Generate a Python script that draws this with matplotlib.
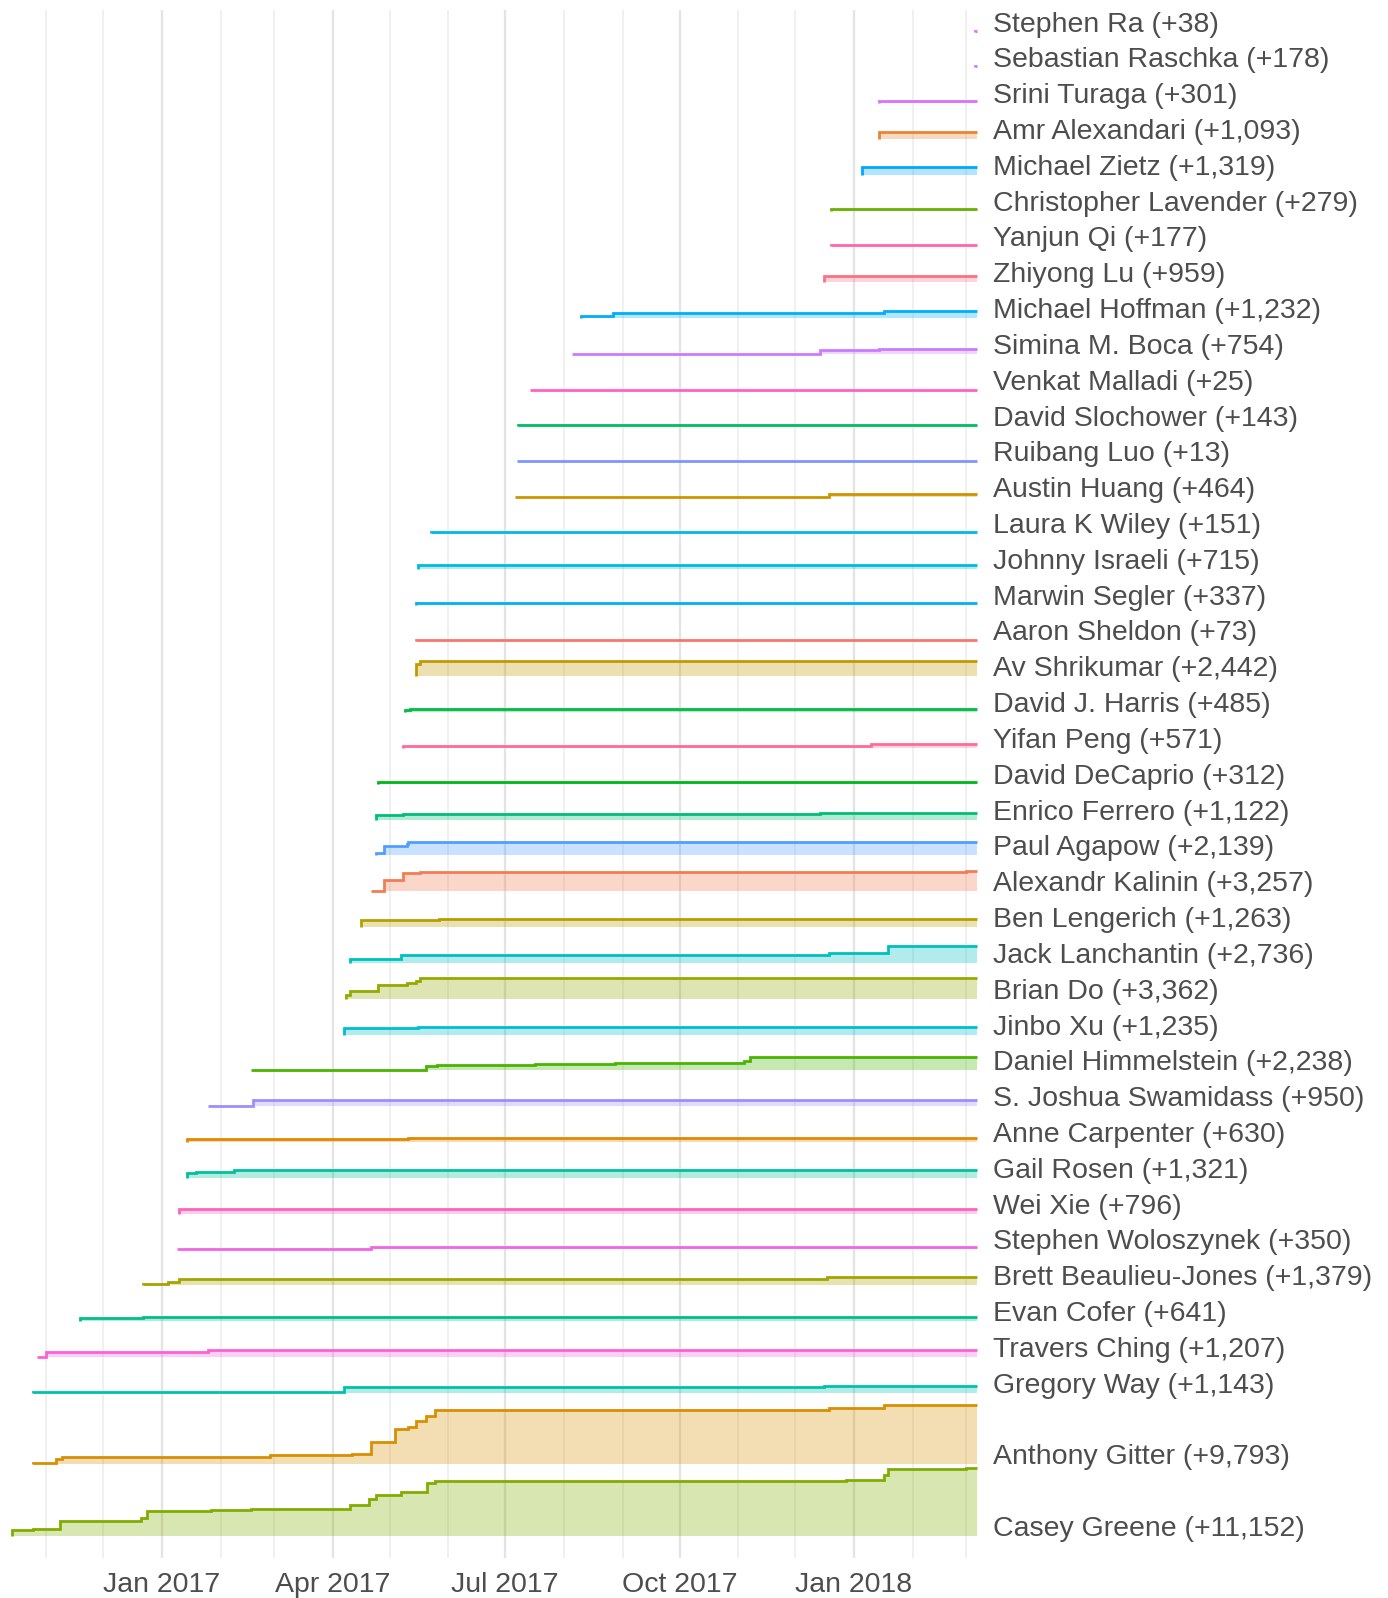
import math
import numpy as np
import pandas as pd
import matplotlib
matplotlib.use("Agg")
import matplotlib.pyplot as plt
import matplotlib.dates as mdates

plt.rcParams['font.family'] = ['Liberation Sans', 'DejaVu Sans']

# ---------------- data (bottom row first) ----------------
authors = [
    "Casey Greene", "Anthony Gitter", "Gregory Way", "Travers Ching", "Evan Cofer",
    "Brett Beaulieu-Jones", "Stephen Woloszynek", "Wei Xie", "Gail Rosen", "Anne Carpenter",
    "S. Joshua Swamidass", "Daniel Himmelstein", "Jinbo Xu", "Brian Do", "Jack Lanchantin",
    "Ben Lengerich", "Alexandr Kalinin", "Paul Agapow", "Enrico Ferrero", "David DeCaprio",
    "Yifan Peng", "David J. Harris", "Av Shrikumar", "Aaron Sheldon", "Marwin Segler",
    "Johnny Israeli", "Laura K Wiley", "Austin Huang", "Ruibang Luo", "David Slochower",
    "Venkat Malladi", "Simina M. Boca", "Michael Hoffman", "Zhiyong Lu", "Yanjun Qi",
    "Christopher Lavender", "Michael Zietz", "Amr Alexandari", "Srini Turaga",
    "Sebastian Raschka", "Stephen Ra",
]

totals = [11152, 9793, 1143, 1207, 641, 1379, 350, 796, 1321, 630,
          950, 2238, 1235, 3362, 2736, 1263, 3257, 2139, 1122, 312,
          571, 485, 2442, 73, 337, 715, 151, 464, 13, 143,
          25, 754, 1232, 959, 177, 279, 1319, 1093, 301, 178, 38]

step_dates = [
    ["2016-10-14", "2016-10-25", "2016-11-08", "2016-12-21", "2016-12-24", "2017-01-27",
     "2017-02-17", "2017-04-10", "2017-04-20", "2017-04-24", "2017-05-07", "2017-05-21",
     "2017-05-25", "2017-12-28", "2018-01-17", "2018-01-19", "2018-03-01"],
    ["2016-10-25", "2016-11-06", "2016-11-09", "2016-12-21", "2017-02-27", "2017-04-11",
     "2017-04-21", "2017-05-04", "2017-05-11", "2017-05-15", "2017-05-20", "2017-05-25",
     "2017-11-17", "2017-12-19", "2018-01-17"],
    ["2016-10-25", "2017-02-24", "2017-04-07", "2017-12-16", "2018-01-17"],
    ["2016-10-27", "2016-11-01", "2017-01-25"],
    ["2016-11-19", "2016-11-26", "2016-12-22"],
    ["2016-12-22", "2017-01-04", "2017-01-10", "2017-01-26", "2017-12-18", "2018-01-13"],
    ["2017-01-09", "2017-01-27", "2017-04-21"],
    ["2017-01-10", "2017-07-20"],
    ["2017-01-14", "2017-01-19", "2017-02-08", "2017-04-08"],
    ["2017-01-14", "2017-01-27", "2017-05-11", "2018-03-01"],
    ["2017-01-25", "2017-02-18"],
    ["2017-02-17", "2017-02-27", "2017-04-07", "2017-05-20", "2017-05-26", "2017-07-17",
     "2017-08-28", "2017-11-04", "2017-11-07", "2018-01-12"],
    ["2017-04-07", "2017-05-16"],
    ["2017-04-08", "2017-04-10", "2017-04-25", "2017-05-10", "2017-05-15", "2017-05-17"],
    ["2017-04-10", "2017-05-07", "2017-12-19", "2018-01-19"],
    ["2017-04-16", "2017-05-27"],
    ["2017-04-21", "2017-04-28", "2017-05-08", "2017-05-17", "2018-03-01"],
    ["2017-04-24", "2017-04-28", "2017-05-10", "2017-05-11"],
    ["2017-04-24", "2017-05-08", "2017-12-14"],
    ["2017-04-25", "2017-05-10"],
    ["2017-05-08", "2018-01-10"],
    ["2017-05-09", "2017-05-12"],
    ["2017-05-15", "2017-05-17"],
    ["2017-05-15"],
    ["2017-05-15", "2017-05-26"],
    ["2017-05-16"],
    ["2017-05-23"],
    ["2017-07-06", "2017-12-19"],
    ["2017-07-07"],
    ["2017-07-08"],
    ["2017-07-14"],
    ["2017-08-05", "2017-12-14", "2018-01-14"],
    ["2017-08-10", "2017-08-27", "2018-01-17", "2018-01-24"],
    ["2017-12-16"],
    ["2017-12-20"],
    ["2017-12-20"],
    ["2018-01-05"],
    ["2018-01-14"],
    ["2018-01-14"],
    ["2018-03-06"],
    ["2018-03-06"],
]

step_words = [
    [980, 1200, 2450, 3000, 4080, 4240, 4460, 5060, 6150, 6800, 7180, 8700, 9085, 9250,
     10060, 11040, 11152],
    [275, 830, 1160, 1270, 1550, 1650, 3700, 5800, 6080, 7070, 8010, 8900, 9010, 9290, 9793],
    [110, 165, 880, 1100, 1143],
    [60, 825, 1207],
    [480, 520, 641],
    [275, 605, 1045, 1100, 1290, 1379],
    [120, 150, 350],
    [770, 796],
    [825, 935, 1265, 1321],
    [450, 480, 600, 630],
    [30, 950],
    [50, 80, 110, 770, 880, 990, 1160, 1485, 2145, 2238],
    [1150, 1235],
    [600, 1320, 2255, 2530, 2915, 3362],
    [605, 1265, 1650, 2736],
    [1230, 1263],
    [60, 1870, 3080, 3200, 3257],
    [385, 1595, 1870, 2139],
    [770, 990, 1122],
    [280, 312],
    [300, 571],
    [420, 485],
    [2035, 2442],
    [73],
    [320, 337],
    [715],
    [151],
    [100, 464],
    [13],
    [143],
    [25],
    [60, 720, 754],
    [275, 880, 1150, 1232],
    [959],
    [177],
    [279],
    [1319],
    [1093],
    [301],
    [178],
    [38],
]

end_date = "2018-03-07"

# ---------------- colours: ggplot2 hue palette over alphabetical authors ----------------
def hcl_hex(h, c=100.0, l=65.0):
    hr = math.radians(h)
    U, V, L = c * math.cos(hr), c * math.sin(hr), l
    Xn, Yn, Zn = 95.047, 100.0, 108.883
    un = 4 * Xn / (Xn + 15 * Yn + 3 * Zn)
    vn = 9 * Yn / (Xn + 15 * Yn + 3 * Zn)
    Y = Yn * ((L + 16) / 116) ** 3 if L > 8 else Yn * L / 903.3
    u = U / (13 * L) + un
    v = V / (13 * L) + vn
    X = 9 * Y * u / (4 * v)
    Z = (9 * Y / v - X - 15 * Y) / 3
    X, Y, Z = X / 100, Y / 100, Z / 100
    rgb = [3.240479 * X - 1.537150 * Y - 0.498535 * Z,
           -0.969256 * X + 1.875992 * Y + 0.041556 * Z,
           0.055648 * X - 0.204043 * Y + 1.057311 * Z]
    out = []
    for ch in rgb:
        ch = 12.92 * ch if ch <= 0.0031308 else 1.055 * ch ** (1 / 2.4) - 0.055
        out.append(min(max(ch, 0.0), 1.0))
    return tuple(out)

alpha_order = sorted(authors)
n = len(alpha_order)
color_of = {a: hcl_hex(15 + 360 * i / n) for i, a in enumerate(alpha_order)}

# ---------------- layout ----------------
W, H = 1388, 1598
fig = plt.figure(figsize=(W / 100, H / 100), dpi=100)
ax_right_px = 985
ax = fig.add_axes([0, 40 / H, ax_right_px / W, (1558 - 10) / H])

words_per_row = 5900.0
ref = pd.Timestamp("2017-01-01")
px_per_day = 1.8959
x_left = mdates.date2num(ref - pd.Timedelta(days=162 / px_per_day))
x_right = mdates.date2num(ref + pd.Timedelta(days=(ax_right_px - 162) / px_per_day))
end_num = mdates.date2num(pd.Timestamp(end_date))

# baselines: rows stack upward; tall series take more than one row
baselines = []
pos = 0.0
for tot in totals:
    baselines.append(pos)
    pos += max(1, math.ceil(tot / words_per_row))

FS = 20.5
for name, tot, ds, ws, base in zip(authors, totals, step_dates, step_words, baselines):
    col = color_of[name]
    xs = [mdates.date2num(pd.Timestamp(d)) for d in ds]
    vals = [w / words_per_row for w in ws]
    x_line = [xs[0]] + xs + [end_num]
    y_line = [base] + [base + v for v in vals] + [base + vals[-1]]
    ax.fill_between(x_line, base, y_line, step='post', color=col, alpha=0.3, linewidth=0)
    ax.plot(x_line, y_line, drawstyle='steps-post', color=col, lw=2.0,
            solid_joinstyle='miter', solid_capstyle='butt')
    ax.annotate(f"{name} (+{tot:,})", xy=(end_num, base), xycoords='data',
                xytext=(11, 0), textcoords='offset points', ha='left', va='baseline',
                fontsize=FS, color='#4D4D4D', annotation_clip=False)

ax.set_xlim(x_left, x_right)
ax.set_ylim(-22 / 35.82, (1536 - 10) / 35.82)

ax.xaxis.set_major_locator(mdates.MonthLocator(bymonth=[1, 4, 7, 10]))
ax.xaxis.set_minor_locator(mdates.MonthLocator())
ax.xaxis.set_major_formatter(mdates.DateFormatter("%b %Y"))
ax.grid(True, which='major', axis='x', color='#E3E3E3', lw=1.6, zorder=0)
ax.grid(True, which='minor', axis='x', color='#EDEDED', lw=1.2, zorder=0)
ax.set_axisbelow(True)
ax.tick_params(axis='x', which='both', length=0, pad=10, labelsize=FS, labelcolor='#4D4D4D')
ax.set_yticks([])
for s in ax.spines.values():
    s.set_visible(False)

fig.savefig("out.png", dpi=100, facecolor='white')
